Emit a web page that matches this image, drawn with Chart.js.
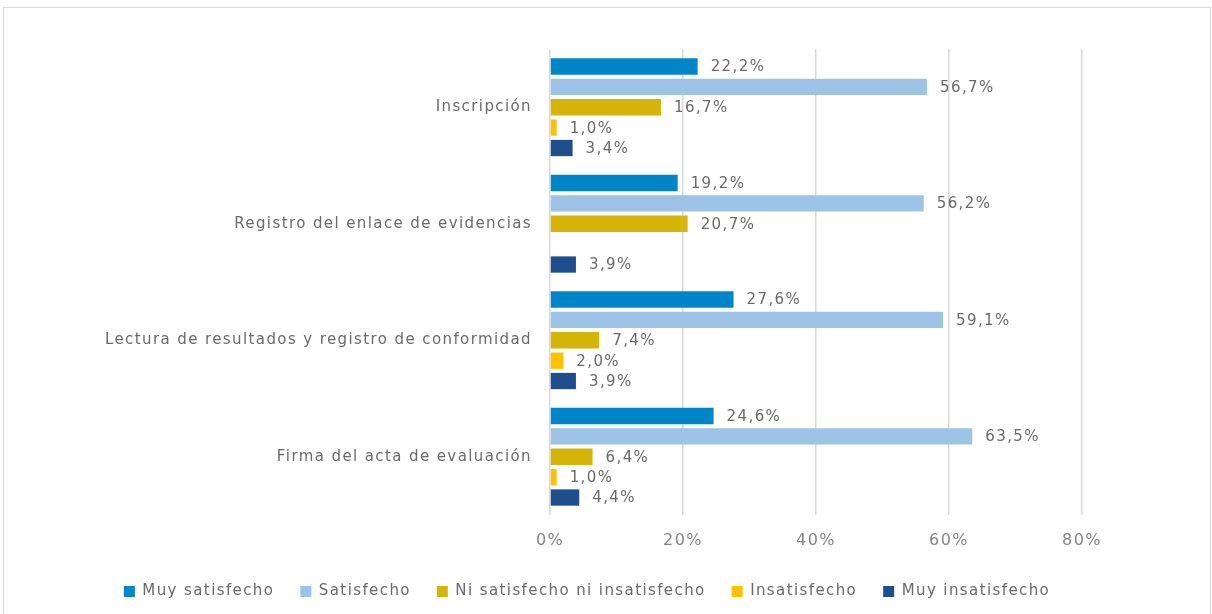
<!DOCTYPE html>
<html>
<head>
<meta charset="utf-8">
<script src="https://cdn.jsdelivr.net/npm/chart.js@4.4.1/dist/chart.umd.min.js"></script>
<style>
  body { margin: 0; background: #fff; }
  #box { position: absolute; left: 3px; top: 7px; width: 1206px; height: 620px; border: 1px solid #d9d9d9; }
  #box canvas { display: block; }
</style>
</head>
<body>
<div id="box"><canvas id="grafico" width="1206" height="606"></canvas></div>
<script>
const categorias = [
  "Inscripción",
  "Registro del enlace de evidencias",
  "Lectura de resultados y registro de conformidad",
  "Firma del acta de evaluación"
];
const muySatisfecho = [22.2, 19.2, 27.6, 24.6];
const satisfecho = [56.7, 56.2, 59.1, 63.5];
const niSatisfecho = [16.7, 20.7, 7.4, 6.4];
const insatisfecho = [1.0, null, 2.0, 1.0];
const muyInsatisfecho = [3.4, 3.9, 3.9, 4.4];
const ticksX = [0, 20, 40, 60, 80];

const fuente = "'DejaVu Sans', sans-serif";
const gris = "#6a6a6a";
const espaciado = "1.4px";

function pct(v) {
  return v.toFixed(1).replace(".", ",") + "%";
}

// etiquetas a la derecha de cada barra
const etiquetas = {
  id: "etiquetas",
  beforeUpdate(chart) {
    chart.ctx.letterSpacing = espaciado;
  },
  beforeDraw(chart) {
    chart.ctx.letterSpacing = espaciado;
  },
  afterDatasetsDraw(chart) {
    const ctx = chart.ctx;
    ctx.save();
    ctx.font = "15px " + fuente;
    ctx.fillStyle = gris;
    ctx.textBaseline = "middle";
    chart.data.datasets.forEach((ds, i) => {
      const meta = chart.getDatasetMeta(i);
      meta.data.forEach((bar, j) => {
        const v = ds.data[j];
        if (v === null) return;
        ctx.fillText(pct(v), bar.x + 13, bar.y + 1);
      });
    });
    ctx.restore();
  }
};

// altura fija de la leyenda
const altoLeyenda = {
  id: "altoLeyenda",
  afterInit(chart) {
    const lg = chart.legend;
    const fit = lg.fit.bind(lg);
    lg.fit = function () {
      fit();
      this.height = 56;
    };
  }
};

new Chart(document.getElementById("grafico"), {
  type: "bar",
  data: {
    labels: categorias,
    datasets: [
      { label: "Muy satisfecho", data: muySatisfecho, backgroundColor: "#0086C8" },
      { label: "Satisfecho", data: satisfecho, backgroundColor: "#9DC3E6" },
      { label: "Ni satisfecho ni insatisfecho", data: niSatisfecho, backgroundColor: "#D6B50A" },
      { label: "Insatisfecho", data: insatisfecho, backgroundColor: "#FFC000" },
      { label: "Muy insatisfecho", data: muyInsatisfecho, backgroundColor: "#1F4E8C" }
    ]
  },
  plugins: [etiquetas, altoLeyenda],
  options: {
    indexAxis: "y",
    responsive: false,
    animation: false,
    categoryPercentage: 0.875,
    barPercentage: 0.8,
    layout: { padding: { top: 41, right: 128, left: 88, bottom: 0 } },
    scales: {
      x: {
        min: 0,
        max: 80,
        afterBuildTicks(scale) {
          scale.ticks = ticksX.map(v => ({ value: v }));
        },
        afterFit(scale) { scale.height = 43; },
        grid: { color: "#d9d9d9", lineWidth: 1.5, drawTicks: false },
        border: { display: false },
        ticks: {
          color: "#858585",
          font: { family: fuente, size: 16 },
          padding: 16,
          callback: v => v + "%"
        }
      },
      y: {
        afterFit(scale) { scale.width = 458; },
        grid: { display: false, drawTicks: false },
        border: { display: false },
        ticks: {
          color: gris,
          font: { family: fuente, size: 15 },
          padding: 18
        }
      }
    },
    plugins: {
      tooltip: { enabled: false },
      legend: {
        position: "bottom",
        labels: {
          boxWidth: 11,
          boxHeight: 11,
          padding: 26,
          color: gris,
          font: { family: fuente, size: 15 }
        }
      }
    }
  }
});
</script>
</body>
</html>
